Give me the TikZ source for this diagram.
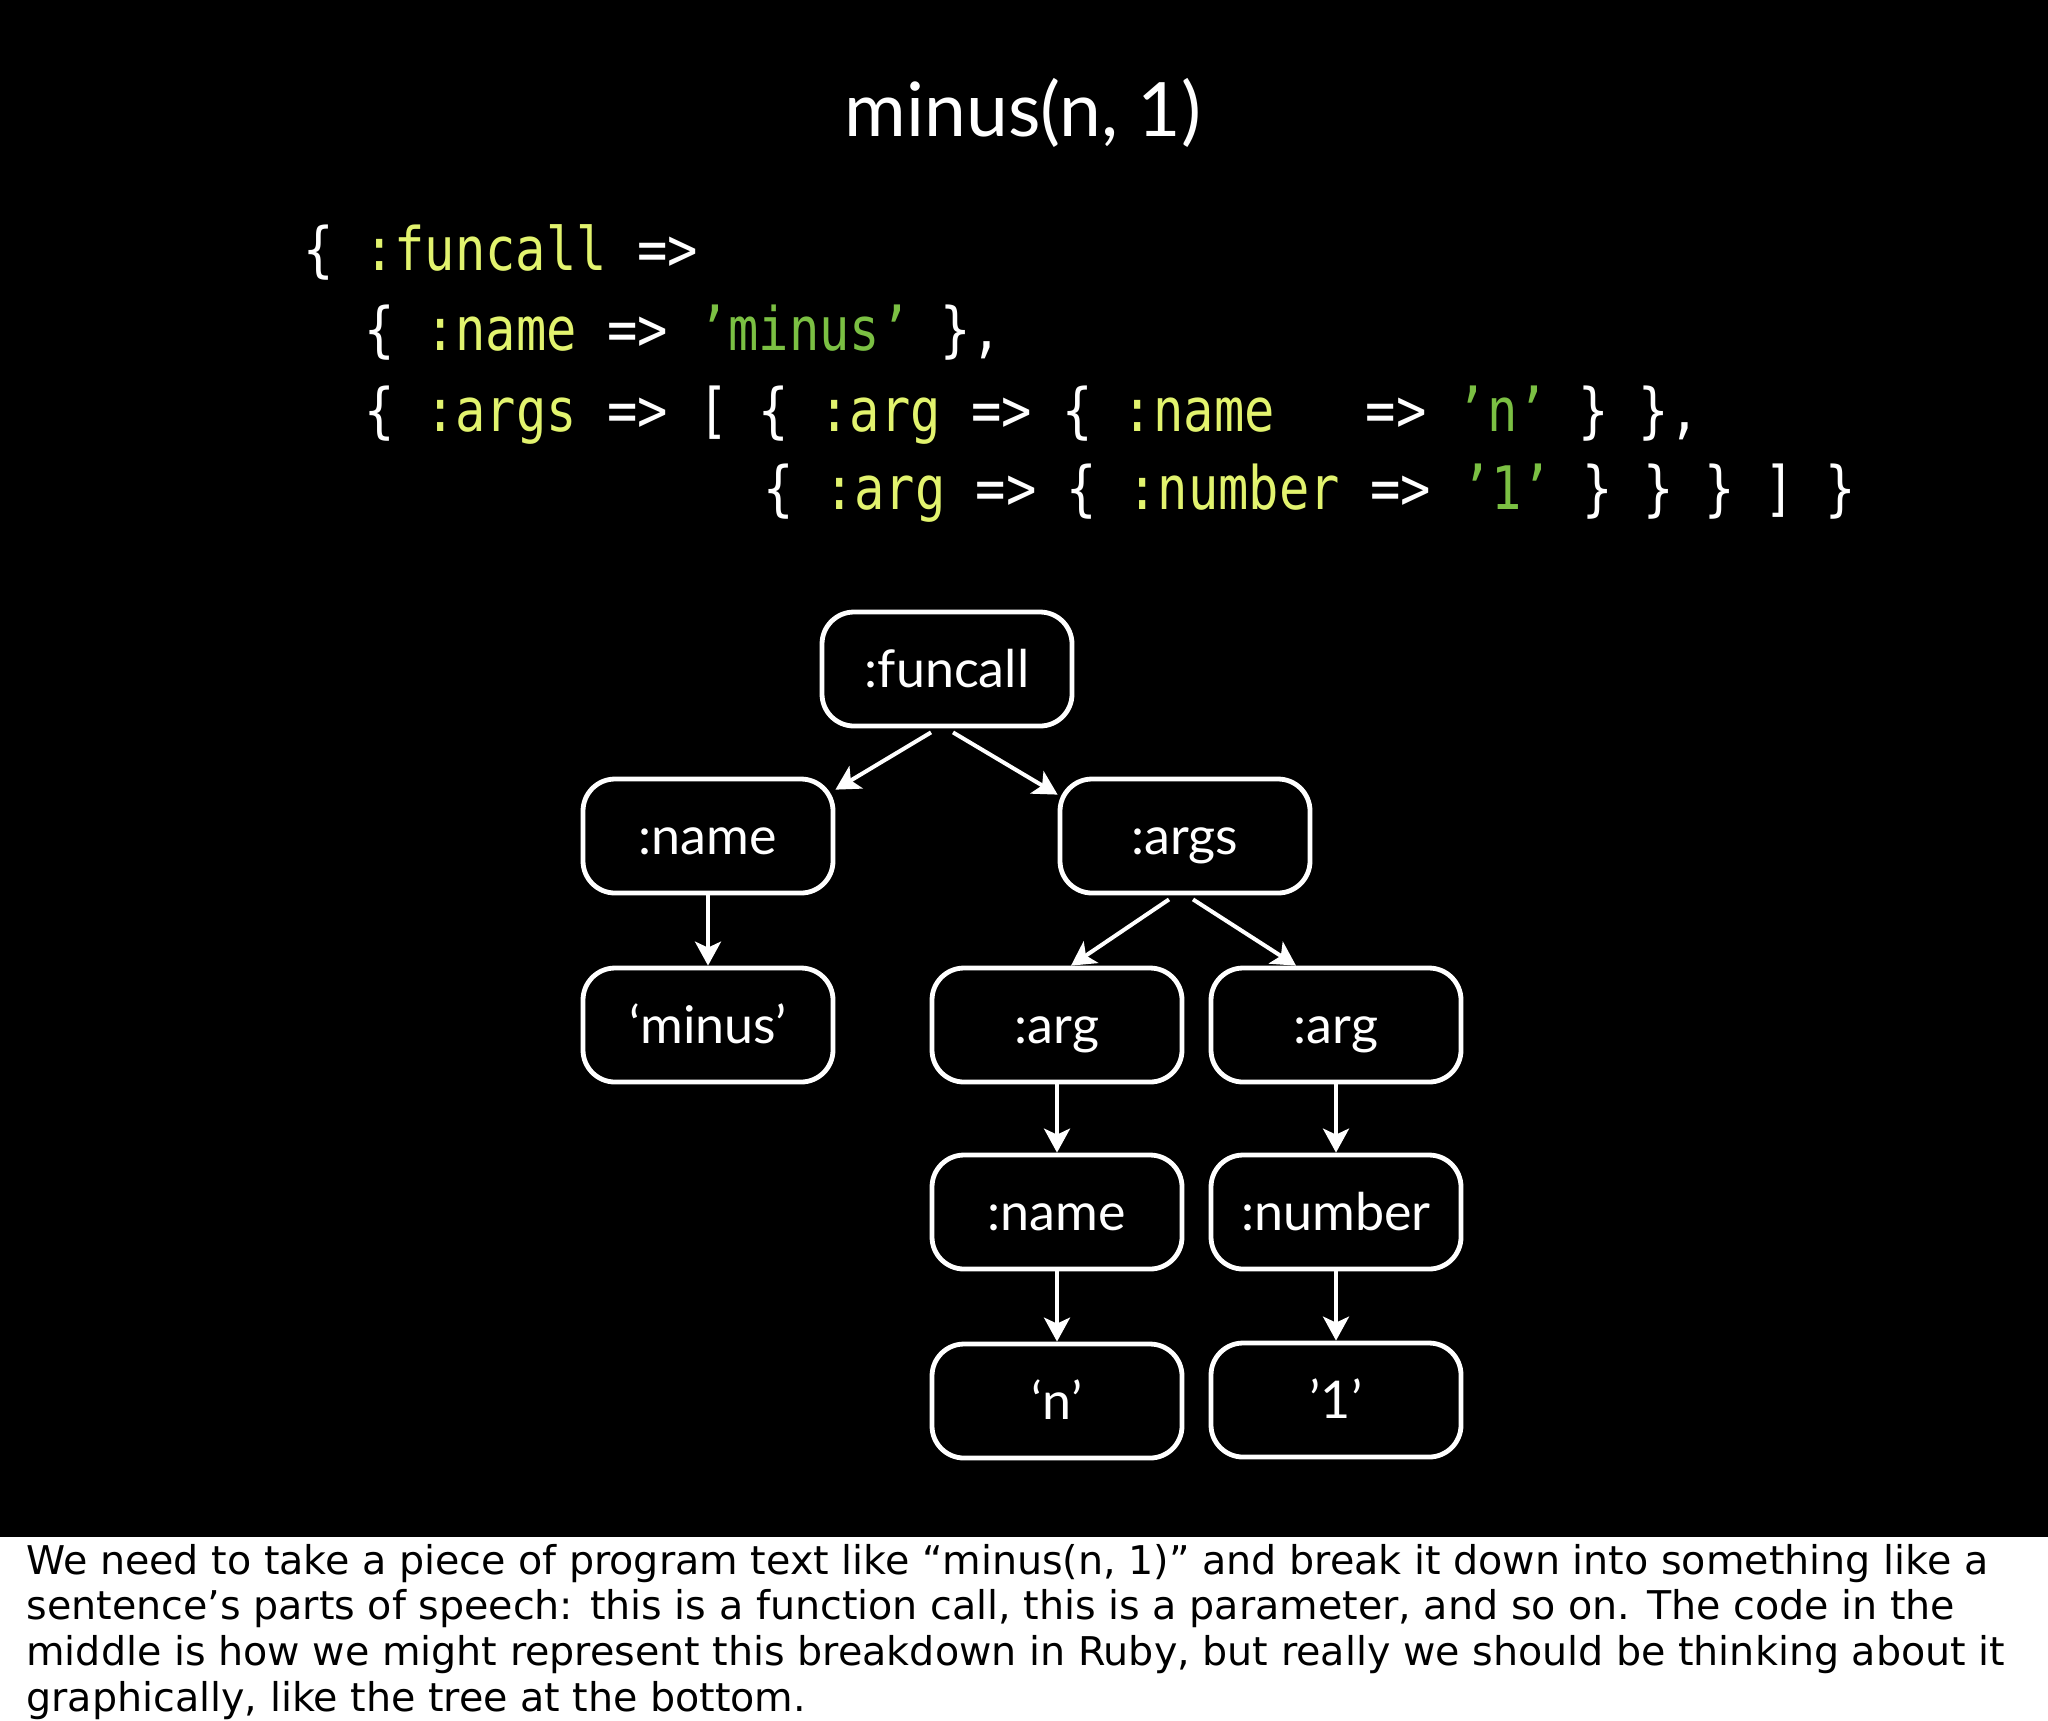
\documentclass[tikz,border=0pt]{standalone}
\usepackage{fontspec}
\setmainfont{Lato}
\newfontfamily\codefont[FakeStretch=0.84]{DejaVu Sans Mono}
\newfontfamily\notefont{DejaVu Sans}
\usetikzlibrary{arrows.meta}
\definecolor{keycol}{HTML}{E2F36E}
\definecolor{strcol}{HTML}{7BC043}
\newcommand{\codekey}[1]{\textcolor{keycol}{#1}}
\newcommand{\codestr}[1]{\textcolor{strcol}{#1}}

\begin{document}
\begin{tikzpicture}[x=0.5pt, y=-0.5pt,
  treenode/.style={draw=white, line width=2.4pt, rounded corners=16pt,
    minimum width=125pt, minimum height=57pt, inner sep=0pt, text=white,
    font=\fontsize{26}{30}\selectfont, text height=18.5pt, text depth=0pt},
  treearrow/.style={white, line width=2pt, -{Stealth[length=12pt, width=13pt, inset=3pt]}},
  codeline/.style={anchor=base west, inner sep=0pt, text=white,
    font=\codefont\fontsize{30}{36}\selectfont},
  noteline/.style={anchor=base west, inner sep=0pt, text=black,
    font=\notefont\fontsize{19.8}{23}\selectfont}]
  \useasboundingbox (0,0) rectangle (2048,1720);
  \fill[black] (0,0) rectangle (2048,1537);
  \fill[white] (0,1537) rectangle (2048,1720);

  % title
  \node[anchor=base, text=white, font=\fontsize{37.5}{42}\selectfont] (title) at (1023,136) {minus(n, 1)};

  % ruby hash
  \node[codeline] (code1) at (303,270) {\{ \codekey{:funcall} =>};
  \node[codeline] (code2) at (364,350) {\{ \codekey{:name} => \codestr{’minus’} \},};
  \node[codeline] (code3) at (364,431) {\{ \codekey{:args} => [ \{ \codekey{:arg} => \{ \codekey{:name}~~~=> \codestr{’n’} \} \},};
  \node[codeline] (code4) at (763,509) {\{ \codekey{:arg} => \{ \codekey{:number} => \codestr{’1’} \} \} \} ] \}};

  % tree
  \node[treenode] (funcall) at (947,669) {:funcall};
  \node[treenode] (name) at (708,836) {:name};
  \node[treenode] (args) at (1185,836) {:args};
  \node[treenode] (minus) at (708,1025) {‘minus’};
  \node[treenode] (argn) at (1057,1025) {:arg};
  \node[treenode] (argone) at (1336,1025) {:arg};
  \node[treenode] (argname) at (1057,1212) {:name};
  \node[treenode] (number) at (1336,1212) {:number};
  \node[treenode] (valn) at (1057,1401) {‘n’};
  \node[treenode] (valone) at (1336,1400) {’1’};

  \draw[treearrow] ([xshift=-8pt,yshift=-2pt]funcall.south) -- (name.20);
  \draw[treearrow] ([xshift=3pt,yshift=-2pt]funcall.south) -- (args.162);
  \draw[treearrow] (name) -- (minus);
  \draw[treearrow] ([xshift=-8pt,yshift=-2pt]args.south) -- ([xshift=7pt]argn.north);
  \draw[treearrow] ([xshift=4pt,yshift=-2pt]args.south) -- ([xshift=-20pt]argone.north);
  \draw[treearrow] (argn) -- (argname);
  \draw[treearrow] (argname) -- (valn);
  \draw[treearrow] (argone) -- (number);
  \draw[treearrow] (number) -- (valone);

  % speaker note
  \node[noteline] (note1) at (26,1574) {We need to take a piece of program text like “minus(n, 1)” and break it down into something like a};
  \node[noteline] (note2) at (26,1619) {sentence’s parts of speech: this is a function call, this is a parameter, and so on. The code in the};
  \node[noteline] (note3) at (26,1665) {middle is how we might represent this breakdown in Ruby, but really we should be thinking about it};
  \node[noteline] (note4) at (26,1711) {graphically, like the tree at the bottom.};
\end{tikzpicture}
\end{document}
